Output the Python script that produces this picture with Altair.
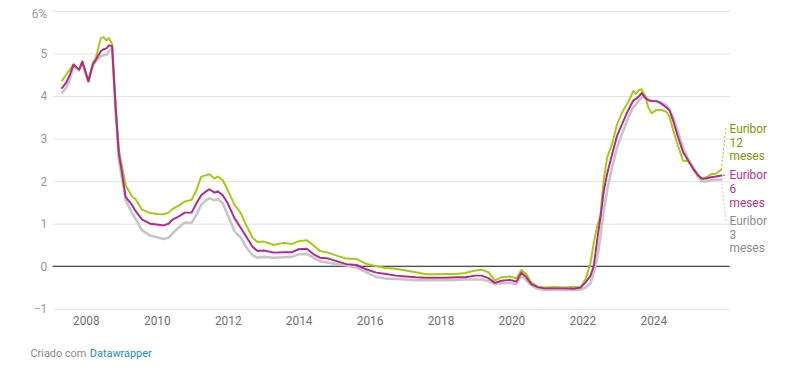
import altair as alt
import pandas as pd

# ---- data (decimal years, percent) ----
dates = [
    2007.33, 2007.44, 2007.55, 2007.65, 2007.81, 2007.90,
    2008.07, 2008.20, 2008.28, 2008.42, 2008.50, 2008.58, 2008.65, 2008.74, 2008.84, 2008.93,
    2009.00, 2009.12, 2009.30, 2009.40, 2009.58, 2009.81,
    2010.00, 2010.19, 2010.33, 2010.45, 2010.60, 2010.79, 2010.98,
    2011.12, 2011.25, 2011.39, 2011.48, 2011.63, 2011.72, 2011.86,
    2012.00, 2012.19, 2012.37, 2012.51, 2012.70, 2012.84,
    2013.02, 2013.30, 2013.58, 2013.81,
    2014.00, 2014.23, 2014.42, 2014.60, 2014.84,
    2015.07, 2015.35, 2015.63, 2015.90,
    2016.19, 2016.46, 2016.74,
    2017.02, 2017.30, 2017.58, 2017.86,
    2018.14, 2018.42, 2018.70, 2018.98,
    2019.16, 2019.35, 2019.53, 2019.72, 2019.95,
    2020.14, 2020.28, 2020.42, 2020.56, 2020.74, 2020.93,
    2021.21, 2021.49, 2021.77, 2021.95,
    2022.09, 2022.23, 2022.32, 2022.42, 2022.51, 2022.60, 2022.70, 2022.84, 2022.98,
    2023.12, 2023.26, 2023.35, 2023.44, 2023.51, 2023.58, 2023.67, 2023.77, 2023.86, 2023.95,
    2024.09, 2024.23, 2024.37, 2024.46, 2024.56, 2024.70, 2024.84, 2024.98,
    2025.12, 2025.26, 2025.37, 2025.49, 2025.63, 2025.77, 2025.92,
]

euribor_12m = [
    4.36, 4.50, 4.62, 4.74, 4.62, 4.81,
    4.35, 4.78, 4.89, 5.36, 5.38, 5.31, 5.36, 5.22, 3.81, 2.75,
    2.42, 1.91, 1.64, 1.58, 1.33, 1.25,
    1.23, 1.22, 1.26, 1.35, 1.42, 1.52, 1.56,
    1.79, 2.10, 2.14, 2.16, 2.06, 2.11, 2.02,
    1.79, 1.44, 1.25, 0.98, 0.67, 0.57,
    0.58, 0.50, 0.55, 0.52,
    0.59, 0.61, 0.49, 0.36, 0.32,
    0.25, 0.18, 0.17, 0.06,
    0.00, -0.04, -0.06,
    -0.10, -0.14, -0.19, -0.19,
    -0.18, -0.18, -0.16, -0.10,
    -0.08, -0.14, -0.33, -0.26, -0.24,
    -0.28, -0.09, -0.19, -0.38, -0.48, -0.50,
    -0.49, -0.50, -0.48, -0.50,
    -0.30, 0.08, 0.55, 0.95, 1.20, 2.02, 2.56, 2.88, 3.34,
    3.61, 3.81, 3.96, 4.12, 4.05, 4.13, 4.16, 4.00, 3.73, 3.60,
    3.67, 3.67, 3.63, 3.50, 3.20, 2.82, 2.48, 2.47,
    2.33, 2.15, 2.04, 2.09, 2.16, 2.18, 2.27,
]

euribor_6m = [
    4.19, 4.31, 4.50, 4.74, 4.62, 4.81,
    4.35, 4.75, 4.85, 5.05, 5.10, 5.12, 5.19, 5.17, 3.70, 2.64,
    2.30, 1.63, 1.44, 1.30, 1.10, 1.00,
    0.98, 0.96, 1.00, 1.10, 1.16, 1.26, 1.26,
    1.48, 1.67, 1.76, 1.81, 1.73, 1.76, 1.67,
    1.48, 1.13, 0.90, 0.71, 0.46, 0.36,
    0.37, 0.32, 0.33, 0.33,
    0.40, 0.41, 0.28, 0.20, 0.18,
    0.12, 0.05, 0.03, -0.07,
    -0.15, -0.18, -0.22,
    -0.24, -0.26, -0.27, -0.27,
    -0.27, -0.26, -0.26, -0.22,
    -0.22, -0.28, -0.39, -0.34, -0.32,
    -0.36, -0.15, -0.26, -0.42, -0.49, -0.52,
    -0.52, -0.52, -0.53, -0.50,
    -0.38, -0.22, 0.00, 0.63, 1.15, 1.75, 2.18, 2.64, 3.07,
    3.34, 3.61, 3.76, 3.90, 3.93, 3.98, 4.07, 3.96, 3.90, 3.88,
    3.88, 3.82, 3.73, 3.66, 3.42, 3.03, 2.68, 2.49,
    2.29, 2.14, 2.06, 2.06, 2.09, 2.11, 2.13,
]

euribor_3m = [
    4.08, 4.19, 4.40, 4.70, 4.60, 4.78,
    4.33, 4.72, 4.82, 4.93, 4.96, 4.97, 5.05, 5.11, 3.60, 2.50,
    2.15, 1.56, 1.25, 1.12, 0.85, 0.72,
    0.68, 0.64, 0.67, 0.78, 0.90, 1.03, 1.02,
    1.21, 1.44, 1.55, 1.60, 1.55, 1.58, 1.48,
    1.21, 0.82, 0.67, 0.46, 0.26, 0.20,
    0.22, 0.20, 0.21, 0.22,
    0.28, 0.29, 0.20, 0.12, 0.08,
    0.05, 0.02, -0.03, -0.14,
    -0.25, -0.29, -0.30,
    -0.31, -0.33, -0.33, -0.33,
    -0.33, -0.32, -0.31, -0.31,
    -0.31, -0.35, -0.42, -0.40, -0.39,
    -0.42, -0.21, -0.33, -0.45, -0.53, -0.56,
    -0.55, -0.55, -0.56, -0.55,
    -0.50, -0.40, -0.15, 0.20, 0.70, 1.30, 1.79, 2.33, 2.80,
    3.11, 3.42, 3.60, 3.74, 3.80, 3.88, 3.96, 4.00, 3.92, 3.89,
    3.88, 3.84, 3.78, 3.67, 3.50, 3.14, 2.78, 2.52,
    2.32, 2.10, 2.00, 1.99, 2.02, 2.03, 2.04,
]

series_keys = ["12m", "6m", "3m"]
label_texts = [["Euribor", "12", "meses"], ["Euribor", "6", "meses"], ["Euribor", "3", "meses"]]
y_ticks = [-1, 0, 1, 2, 3, 4, 5, 6]
x_ticks = [2008, 2010, 2012, 2014, 2016, 2018, 2020, 2022, 2024]
footer_parts = ["Criado com", "Datawrapper"]

# ---- styling ----
LINE_COLORS = {"12m": "#a9ca0c", "6m": "#b5288c", "3m": "#c6c6c6"}
TEXT_COLORS = {"12m": "#7d9800", "6m": "#c02f8f", "3m": "#8c8c8c"}
LINE_WIDTH = {"12m": 2.0, "6m": 2.0, "3m": 2.6}
FONT = "Roboto"

X_DOMAIN = [2007.06, 2026.15]
Y_DOMAIN = [-1, 6]
LABEL_X = 2026.15
LABEL_FIRST_Y = {"12m": 3.23, "6m": 2.14, "3m": 1.07}
LEADER_END = {"12m": (2026.05, 3.26), "6m": (2026.05, 2.14), "3m": (2026.05, 1.07)}
LINE_STEP = 14 / 43.0  # one text line (14px) in data units

for s in (euribor_12m, euribor_6m, euribor_3m):
    assert len(s) == len(dates)

values = {"12m": euribor_12m, "6m": euribor_6m, "3m": euribor_3m}

x_scale = alt.Scale(domain=X_DOMAIN, nice=False, zero=False)
y_scale = alt.Scale(domain=Y_DOMAIN, nice=False, zero=False)

X_AXIS = alt.Axis(
    values=x_ticks, format="d", grid=False, domain=False, ticks=False,
    labelPadding=7, labelFontSize=12, labelColor="#707070", labelFont=FONT,
    title=None)
Y_AXIS = alt.Axis(
    values=y_ticks, grid=True, gridColor="#e3e3e3", gridWidth=1,
    domain=False, ticks=False, labelPadding=6, labelFontSize=12,
    labelColor="#9a9a9a", labelFont=FONT, title=None,
    labelOffset={"condition": {"test": "datum.value == 6", "value": 3}, "value": 0},
    labelExpr="datum.value == 6 ? '6%' : (datum.value < 0 ? '\u2212' + abs(datum.value) : datum.label)")


def xenc():
    return alt.X("date:Q", scale=x_scale, axis=X_AXIS)


def yenc():
    return alt.Y("value:Q", scale=y_scale, axis=Y_AXIS)


zero_rule = alt.Chart(pd.DataFrame({"value": [0.0]})).mark_rule(
    color="#1a1a1a", strokeWidth=1).encode(y=yenc())

layers = [zero_rule]

# lines: grey first, then green, magenta on top
for key in ["3m", "12m", "6m"]:
    d = pd.DataFrame({"date": dates, "value": values[key]})
    layers.append(
        alt.Chart(d).mark_line(color=LINE_COLORS[key], strokeWidth=LINE_WIDTH[key],
                               strokeJoin="round", strokeCap="round").encode(
            x=xenc(), y=yenc())
    )

# leader lines
for key in series_keys:
    start_x = dates[-1] + (0.04 if key == "6m" else 0.0)
    start_y = values[key][-1] + (0.01 if key == "6m" else 0.0)
    ex, ey = LEADER_END[key]
    d = pd.DataFrame({"date": [start_x, ex], "value": [start_y, ey]})
    layers.append(
        alt.Chart(d).mark_line(color=LINE_COLORS[key], strokeWidth=1, strokeDash=[2, 2]).encode(
            x=xenc(), y=yenc())
    )

# direct labels
for key, lines in zip(series_keys, label_texts):
    d = pd.DataFrame({
        "date": [LABEL_X] * len(lines),
        "value": [LABEL_FIRST_Y[key] - i * LINE_STEP for i in range(len(lines))],
        "t": lines,
    })
    layers.append(
        alt.Chart(d).mark_text(align="left", baseline="middle", fontSize=12, font=FONT,
                               color=TEXT_COLORS[key]).encode(
            x=xenc(), y=yenc(), text="t:N")
    )

# footer
layers.append(
    alt.Chart(pd.DataFrame({"t": [footer_parts[0]]})).mark_text(
        align="left", baseline="middle", fontSize=11, font=FONT, color="#8a8a8a").encode(
        x=alt.value(-22.3), y=alt.value(347), text="t:N")
)
layers.append(
    alt.Chart(pd.DataFrame({"t": [footer_parts[1]]})).mark_text(
        align="left", baseline="middle", fontSize=11, font=FONT, color="#1d8dc9").encode(
        x=alt.value(37.7), y=alt.value(347), text="t:N")
)

chart = alt.layer(*layers).properties(
    width=684, height=301,
    autosize=alt.AutoSizeParams(type="none"),
    padding={"left": 45, "top": 1, "right": 53, "bottom": 70},
).configure(font=FONT).configure_view(stroke=None)

chart.save("out.html", embed_options={"renderer": "svg", "actions": False})
